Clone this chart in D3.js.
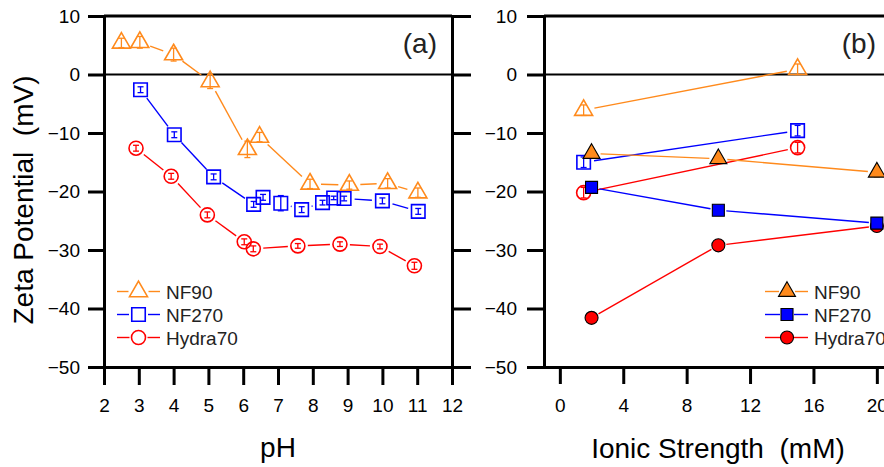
<!DOCTYPE html>
<html>
<head>
<meta charset="utf-8">
<script src="https://cdn.jsdelivr.net/npm/d3@7"></script>
<style>
  html, body { margin: 0; padding: 0; background: #fff; overflow: hidden; }
  svg { display: block; font-family: "Liberation Sans", Arial, sans-serif; }
  text { white-space: pre; }
</style>
</head>
<body>
<svg id="chart" width="884" height="467"></svg>
<script>
// ---------- DATA ----------
// Panel (a): zeta potential vs pH
const phNF90   = [2.5, 3.03, 4.0, 5.05, 6.12, 6.47, 7.92, 9.05, 10.15, 11.02];
const zNF90    = [5.4, 5.5, 3.4, -1.2, -12.8, -10.7, -18.7, -18.9, -18.6, -20.2];
const eNF90    = [0.8, 1.0, 1.1, 1.2, 1.4, 0.8, 0.8, 0.7, 0.8, 0.8];

const phNF270  = [3.05, 4.02, 5.15, 6.3, 6.57, 7.08, 7.68, 8.28, 8.6, 8.9, 10.0, 11.03];
const zNF270   = [-2.6, -10.3, -17.5, -22.2, -21.0, -22.0, -23.1, -21.9, -21.1, -21.2, -21.6, -23.4];
const eNF270   = [0.5, 0.5, 0.5, 0.5, 0.5, 1.3, 0.5, 0.4, 0.3, 0.4, 0.5, 0.5];

const phHydra  = [2.92, 3.93, 4.97, 6.03, 6.29, 7.57, 8.78, 9.93, 10.92];
const zHydra   = [-12.6, -17.4, -24.0, -28.6, -29.8, -29.3, -29.0, -29.4, -32.7];
const eHydra   = [0.5, 0.5, 0.5, 0.5, 0.5, 0.4, 0.4, 0.4, 0.6];

// Panel (b): zeta potential vs ionic strength
const isOpen       = [1.5, 15];
const zNF90open    = [-6.1, 0.9];
const zNF270open   = [-15.0, -9.6];
const zHydraOpen   = [-20.2, -12.5];
const eOpen        = [0.9, 0.9];

const isFilled     = [2, 10, 20];
const zNF90fill    = [-13.5, -14.4, -16.7];
const zNF270fill   = [-19.3, -23.2, -25.4];
const zHydraFill   = [-41.6, -29.2, -25.9];
const eFilled      = [0.6, 0.6, 0.8];

const seriesNames  = ["NF90", "NF270", "Hydra70"];
const yTicks       = [10, 0, -10, -20, -30, -40, -50];
const xTicksA      = [2, 3, 4, 5, 6, 7, 8, 9, 10, 11, 12];
const xTicksB      = [0, 4, 8, 12, 16, 20];

// ---------- STYLE ----------
const ORANGE = "#FF8A1C", BLUE = "#0000FF", RED = "#FF0000";
const colors = [ORANGE, BLUE, RED];
const AXW = 3;

const svg = d3.select("#chart");
svg.append("rect").attr("width", 884).attr("height", 467).attr("fill", "#fff");

const y = d3.scaleLinear().domain([-50, 10]).range([367, 16]);
const xa = d3.scaleLinear().domain([2, 12]).range([104, 452]);
const xb = d3.scaleLinear().domain([-1, 21]).range([544, 544 + 22 * 15.85]);

function styleAxis(g) {
  g.select(".domain").attr("stroke", "#000").attr("stroke-width", AXW).attr("stroke-linecap", "square");
  g.selectAll(".tick line").attr("stroke", "#000").attr("stroke-width", AXW);
  g.selectAll(".tick text").attr("fill", "#000").style("font-size", "19px")
    .style("font-family", "'Liberation Sans', Arial, sans-serif");
}

// ----- Panel (a) axes -----
const gA = svg.append("g");
gA.append("line").attr("x1", xa(2)).attr("x2", xa(12)).attr("y1", y(0)).attr("y2", y(0))
  .attr("stroke", "#000").attr("stroke-width", 2);
gA.append("line").attr("x1", 104).attr("x2", 452).attr("y1", 16).attr("y2", 16)
  .attr("stroke", "#000").attr("stroke-width", AXW);

const axLa = gA.append("g").attr("transform", "translate(104,0)")
  .call(d3.axisLeft(y).tickValues(yTicks).tickSize(16).tickSizeOuter(0).tickPadding(8).tickFormat(d3.format("d")));
styleAxis(axLa);
const axRa = gA.append("g").attr("transform", "translate(452,0)")
  .call(d3.axisRight(y).tickValues(yTicks).tickSize(19).tickSizeOuter(0).tickFormat(""));
styleAxis(axRa);
const axBa = gA.append("g").attr("transform", "translate(0,367)")
  .call(d3.axisBottom(xa).tickValues(xTicksA).tickSize(18).tickSizeOuter(0).tickFormat(d3.format("d")));
styleAxis(axBa);
axBa.selectAll(".tick text").attr("y", 45).attr("dy", 0);

// ----- Panel (b) axes -----
const gB = svg.append("g");
gB.append("line").attr("x1", 544).attr("x2", 884).attr("y1", y(0)).attr("y2", y(0))
  .attr("stroke", "#000").attr("stroke-width", 2);
gB.append("line").attr("x1", 544).attr("x2", 900).attr("y1", 16).attr("y2", 16)
  .attr("stroke", "#000").attr("stroke-width", AXW);
const axLb = gB.append("g").attr("transform", "translate(544,0)")
  .call(d3.axisLeft(y).tickValues(yTicks).tickSize(17).tickSizeOuter(0).tickPadding(10).tickFormat(d3.format("d")));
styleAxis(axLb);
const axBb = gB.append("g").attr("transform", "translate(0,367)")
  .call(d3.axisBottom(xb).tickValues(xTicksB).tickSize(17).tickSizeOuter(0).tickFormat(d3.format("d")));
styleAxis(axBb);
axBb.selectAll(".tick text").attr("y", 45).attr("dy", 0);

// ----- titles -----
const font = "'Liberation Sans', Arial, sans-serif";
svg.append("text").attr("transform", "translate(33,200) rotate(-90)")
  .attr("text-anchor", "middle").style("font-size", "28px").style("font-family", font)
  .text("Zeta Potential  (mV)");
svg.append("text").attr("x", 278).attr("y", 457).attr("text-anchor", "middle")
  .style("font-size", "28px").style("font-family", font).text("pH");
svg.append("text").attr("x", 718).attr("y", 458).attr("text-anchor", "middle")
  .style("font-size", "28px").style("font-family", font).text("Ionic Strength  (mM)");
svg.append("text").attr("x", 437).attr("y", 53).attr("text-anchor", "end")
  .style("font-size", "28px").style("font-family", font).attr("fill", "#222").text("(a)");
svg.append("text").attr("x", 876).attr("y", 53).attr("text-anchor", "end")
  .style("font-size", "28px").style("font-family", font).attr("fill", "#222").text("(b)");

// ---------- series drawing ----------
const shapes = [d3.symbolTriangle, d3.symbolSquare, d3.symbolCircle];
const openSizes = [140, 182, 154];
const fillSizes = [125, 144, 133];
const openGap = [11, 10.5, 10];
const fillGap = [9, 8, 8];

function drawSeries(g, xs, xv, yv, ev, k, filled) {
  const color = colors[k];
  const pts = xv.map((v, i) => [xs(v), y(yv[i])]);
  const gap = filled ? fillGap[k] : openGap[k];
  for (let i = 0; i < pts.length - 1; i++) {
    const [x1, y1] = pts[i], [x2, y2] = pts[i + 1];
    const dx = x2 - x1, dy = y2 - y1, L = Math.hypot(dx, dy);
    if (L <= 2 * gap) continue;
    const ux = dx / L, uy = dy / L;
    g.append("line")
      .attr("x1", x1 + ux * gap).attr("y1", y1 + uy * gap)
      .attr("x2", x2 - ux * gap).attr("y2", y2 - uy * gap)
      .attr("stroke", color).attr("stroke-width", 1.4);
  }
  // error bars
  pts.forEach((p, i) => {
    const e = ev[i];
    const yt = y(yv[i] + e), yb = y(yv[i] - e);
    const eg = g.append("g").attr("stroke", color).attr("stroke-width", 1.3);
    eg.append("line").attr("x1", p[0]).attr("x2", p[0]).attr("y1", yt).attr("y2", yb);
    eg.append("line").attr("x1", p[0] - 3).attr("x2", p[0] + 3).attr("y1", yt).attr("y2", yt);
    eg.append("line").attr("x1", p[0] - 3).attr("x2", p[0] + 3).attr("y1", yb).attr("y2", yb);
  });
  // markers
  const sym = d3.symbol().type(shapes[k]).size(filled ? fillSizes[k] : openSizes[k]);
  pts.forEach(p => {
    g.append("path").attr("d", sym()).attr("transform", `translate(${p[0]},${p[1]})`)
      .attr("fill", filled ? color : "none")
      .attr("stroke", filled ? "#000" : color)
      .attr("stroke-width", filled ? 1.1 : 1.6);
  });
}

const gData = svg.append("g");
// Panel (a)
drawSeries(gData, xa, phHydra, zHydra, eHydra, 2, false);
drawSeries(gData, xa, phNF270, zNF270, eNF270, 1, false);
drawSeries(gData, xa, phNF90, zNF90, eNF90, 0, false);
// Panel (b) open symbols
drawSeries(gData, xb, isOpen, zHydraOpen, eOpen, 2, false);
drawSeries(gData, xb, isOpen, zNF270open, eOpen, 1, false);
drawSeries(gData, xb, isOpen, zNF90open, eOpen, 0, false);
// Panel (b) filled symbols
drawSeries(gData, xb, isFilled, zHydraFill, eFilled, 2, true);
drawSeries(gData, xb, isFilled, zNF270fill, eFilled, 1, true);
drawSeries(gData, xb, isFilled, zNF90fill, eFilled, 0, true);

// ---------- legends ----------
function legend(x0, x1, xm, xt, rows, filled) {
  const lg = svg.append("g");
  seriesNames.forEach((name, k) => {
    const yy = rows[k];
    const gap = filled ? fillGap[k] - 1 : openGap[k] - 1;
    lg.append("line").attr("x1", x0).attr("x2", xm - gap).attr("y1", yy).attr("y2", yy)
      .attr("stroke", colors[k]).attr("stroke-width", 1.4);
    lg.append("line").attr("x1", xm + gap).attr("x2", x1).attr("y1", yy).attr("y2", yy)
      .attr("stroke", colors[k]).attr("stroke-width", 1.4);
    const sym = d3.symbol().type(shapes[k]).size(filled ? fillSizes[k] : openSizes[k]);
    lg.append("path").attr("d", sym()).attr("transform", `translate(${xm},${yy})`)
      .attr("fill", filled ? colors[k] : "none")
      .attr("stroke", filled ? "#000" : colors[k])
      .attr("stroke-width", filled ? 1.1 : 1.6);
    lg.append("text").attr("x", xt).attr("y", yy + 7).style("font-size", "19px")
      .style("font-family", font).attr("fill", "#222").text(name);
  });
}
legend(117, 160, 138.5, 166, [291.5, 314.5, 337.5], false);
legend(765, 808, 787, 814, [291.5, 314.5, 337.5], true);
</script>
</body>
</html>
